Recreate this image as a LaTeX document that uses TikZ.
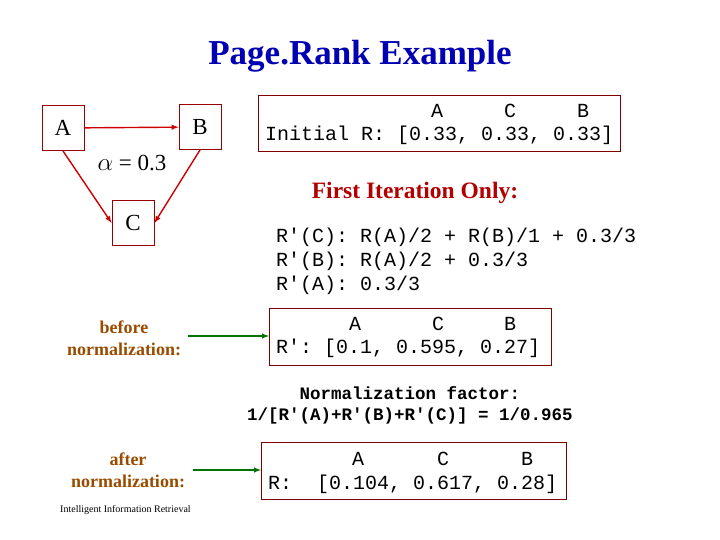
\documentclass[tikz,border=0pt]{standalone}
\usepackage{fontspec}
\setmainfont{Liberation Serif}
\setmonofont{Liberation Mono}
\begin{document}
\begin{tikzpicture}[x=1pt,y=-1pt,
  gbox/.style={draw=red!60!black,line width=0.8pt,minimum width=42pt,minimum height=45pt,font=\fontsize{23}{24}\selectfont},
  rbox/.style={draw=red!50!black,line width=0.8pt,anchor=north west},
  redarr/.style={draw=red!80!black,line width=1.4pt,-latex},
  grarr/.style={draw=green!45!black,line width=1.4pt,-latex},
  mono/.style={font=\ttfamily\fontsize{20}{21}\selectfont,anchor=west,inner sep=0pt},
  hl/.style={font=\ttfamily\fontsize{20}{21}\selectfont,inner sep=0pt},
  lab/.style={font=\bfseries\fontsize{18}{22}\selectfont,text=orange!60!black,align=center}]
\useasboundingbox (0,0) rectangle (720,540);
\node[font=\bfseries\fontsize{35}{38}\selectfont,text=blue!70!black] (title) at (360,56) {Page.Rank Example};
\node[gbox] (A) at (63,128) {A};
\node[gbox] (B) at (200,127) {B};
\node[gbox] (C) at (133,223) {C};
\draw[redarr] (A) -- (B);
\coordinate (a1) at (63,151);
\coordinate (b1) at (200,150);
\draw[redarr] (a1) -- (C.west);
\draw[redarr] (b1) -- (C.east);
\node[font=\fontsize{23}{24}\selectfont] (alpha) at (132,163) {$\alpha$ = 0.3};
\draw[rbox] (258,95) rectangle (620,151);
\node[hl] (h1a) at (437,111) {A};
\node[hl] (h1c) at (510,111) {C};
\node[hl] (h1b) at (583,111) {B};
\node[mono] (i1) at (265,135) {Initial R: [0.33, 0.33, 0.33]};
\node[font=\bfseries\fontsize{23.5}{26}\selectfont,text=red!70!black] (fi) at (415,193) {First Iteration Only:};
\node[mono] (r1) at (276,237) {R'(C): R(A)/2 + R(B)/1 + 0.3/3};
\node[mono] (r2) at (276,261) {R'(B): R(A)/2 + 0.3/3};
\node[mono] (r3) at (276,285) {R'(A): 0.3/3};
\draw[rbox] (269,308) rectangle (551,365);
\node[hl] (h2a) at (355,324) {A};
\node[hl] (h2c) at (438,324) {C};
\node[hl] (h2b) at (510,324) {B};
\node[mono] (v2) at (276,348) {R': [0.1, 0.595, 0.27]};
\node[lab] (bn) at (124,338) {before\\normalization:};
\coordinate (bt) at (269,336);
\draw[grarr] (188,336) -- (bt);
\node[font=\ttfamily\bfseries\fontsize{17.5}{21}\selectfont,align=center] (nf) at (410,405) {Normalization factor:\\1/[R'(A)+R'(B)+R'(C)] = 1/0.965};
\draw[rbox] (261,442) rectangle (566,499);
\node[hl] (h3a) at (358,459) {A};
\node[hl] (h3c) at (443,459) {C};
\node[hl] (h3b) at (527,459) {B};
\node[mono] (v3) at (268,484) {R:\hspace{1.25em}[0.104, 0.617, 0.28]};
\node[lab] (an) at (128,470) {after\\normalization:};
\coordinate (at) at (261,470);
\draw[grarr] (193,470) -- (at);
\node[font=\fontsize{10}{11}\selectfont,anchor=west,inner sep=0pt] (foot) at (60,510) {Intelligent Information Retrieval};
\end{tikzpicture}
\end{document}
